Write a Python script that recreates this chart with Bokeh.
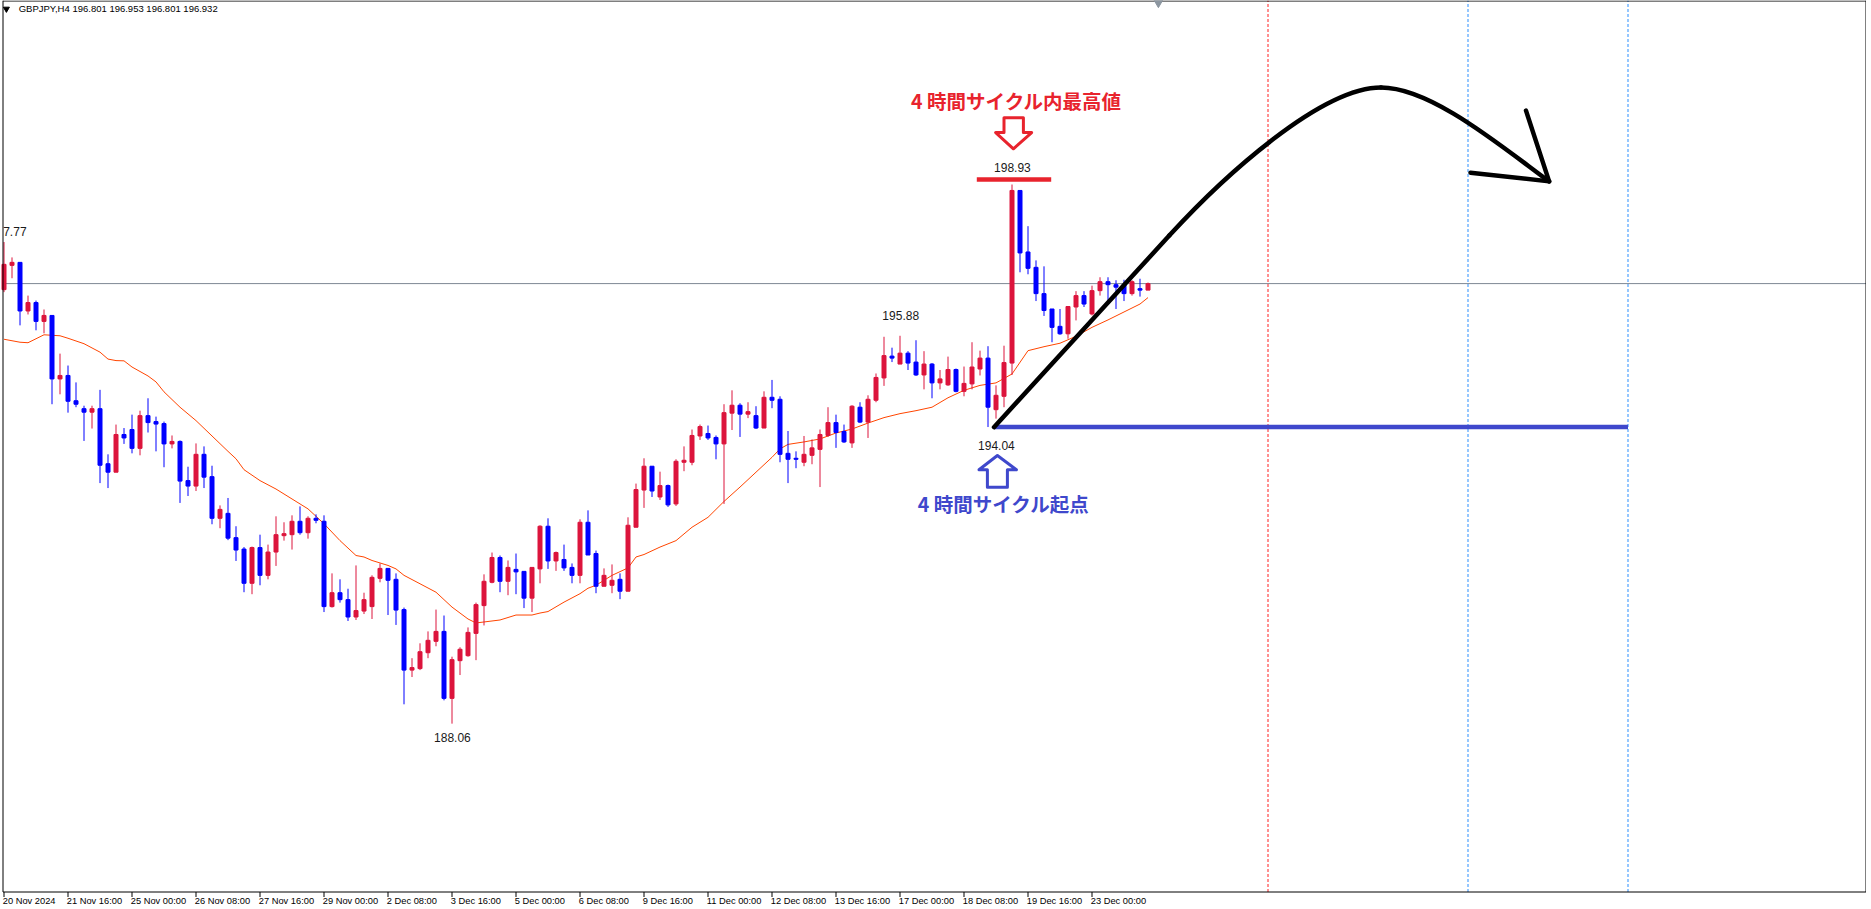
from bokeh.plotting import figure
from bokeh.models import ColumnDataSource
from bokeh.core.properties import value
from bokeh.embed import file_html
from bokeh.resources import INLINE

# ---------------- data (GBPJPY H4, bar index 0 = 20 Nov 2024 08:00) ----------------
opens = [196.81, 197.30, 197.36, 196.38, 196.55, 196.17, 196.29, 195.01, 195.08, 194.57,
         194.41, 194.34, 194.41, 193.30, 193.13, 193.89, 193.99, 193.61, 194.27, 194.15,
         194.11, 193.70, 193.75, 192.96, 192.85, 193.49, 193.04, 192.20, 192.30, 191.81,
         191.58, 190.89, 191.61, 191.05, 191.52, 191.85, 191.87, 192.14, 191.91, 192.20,
         192.14, 190.42, 190.70, 190.56, 190.21, 190.33, 190.42, 190.99, 191.19, 190.97,
         190.36, 189.14, 189.17, 189.49, 189.72, 189.92, 188.57, 189.33, 189.43, 189.88,
         190.44, 190.91, 191.41, 190.93, 191.17, 191.13, 190.59, 191.18, 192.04, 191.34,
         191.37, 191.21, 191.05, 192.12, 191.49, 190.83, 190.85, 190.97, 190.73, 192.02,
         192.77, 193.25, 192.63, 192.86, 192.49, 193.33, 193.33, 193.86, 193.91, 193.83,
         193.70, 194.32, 194.48, 194.30, 194.27, 194.02, 194.64, 194.60, 193.51, 193.41,
         193.33, 193.47, 193.59, 193.87, 194.13, 193.95, 193.72, 194.44, 194.14, 194.58,
         195.03, 195.47, 195.31, 195.53, 195.35, 195.09, 195.31, 194.93, 194.89, 195.20,
         194.76, 194.91, 195.21, 195.43, 194.39, 194.66, 195.33, 198.81, 197.57, 197.26,
         196.73, 196.42, 196.07, 195.92, 196.46, 196.69, 196.32, 196.79, 196.97, 196.91,
         196.91, 196.73, 196.83, 196.801]
highs = [197.77, 197.46, 197.36, 196.69, 196.59, 196.41, 196.29, 195.52, 195.28, 194.94,
         194.47, 194.47, 194.79, 193.49, 194.09, 194.02, 194.29, 194.37, 194.62, 194.25,
         194.15, 193.87, 193.77, 193.24, 193.71, 193.65, 193.26, 192.46, 192.61, 192.04,
         191.62, 191.63, 191.87, 191.67, 192.24, 192.12, 192.26, 192.44, 192.24, 192.28,
         192.26, 191.09, 190.97, 190.78, 191.25, 190.70, 191.05, 191.29, 191.19, 191.09,
         190.40, 189.38, 189.68, 189.92, 190.36, 190.24, 189.41, 189.60, 190.00, 190.50,
         191.07, 191.51, 191.45, 191.35, 191.49, 191.13, 191.21, 192.06, 192.20, 191.53,
         191.67, 191.29, 192.18, 192.36, 191.55, 191.19, 191.27, 191.09, 192.22, 192.90,
         193.41, 193.25, 193.14, 192.88, 193.39, 193.65, 193.99, 194.09, 194.07, 193.87,
         194.50, 194.78, 194.52, 194.54, 194.46, 194.76, 194.99, 194.66, 193.96, 193.55,
         193.86, 193.79, 193.99, 194.44, 194.29, 194.09, 194.48, 194.54, 194.68, 195.12,
         195.86, 195.64, 195.88, 195.57, 195.79, 195.57, 195.33, 195.19, 195.46, 195.22,
         195.26, 195.75, 195.58, 195.67, 194.88, 195.68, 198.93, 198.81, 198.09, 197.40,
         197.28, 196.42, 196.42, 196.48, 196.78, 196.78, 196.89, 197.06, 197.06, 197.00,
         197.01, 197.00, 197.03, 196.953]
lows = [196.76, 197.04, 196.09, 196.31, 195.99, 195.93, 194.50, 194.70, 194.33, 194.44,
        193.76, 194.01, 192.91, 192.81, 193.13, 193.70, 193.51, 193.47, 193.93, 193.55,
        193.23, 193.61, 192.51, 192.65, 192.75, 192.81, 192.08, 192.00, 191.76, 191.34,
        190.71, 190.67, 190.85, 190.97, 191.24, 191.75, 191.57, 191.87, 191.79, 192.10,
        190.31, 190.40, 190.50, 190.13, 190.15, 190.27, 190.17, 190.91, 190.25, 190.05,
        188.45, 189.00, 189.14, 189.38, 189.62, 188.53, 188.06, 189.04, 189.41, 189.34,
        190.04, 190.89, 190.71, 190.65, 190.67, 190.39, 190.31, 190.89, 191.18, 191.14,
        191.14, 190.89, 190.89, 191.46, 190.69, 190.83, 190.69, 190.57, 190.73, 192.02,
        192.41, 192.63, 192.57, 192.43, 192.45, 193.15, 193.27, 193.78, 193.78, 193.39,
        192.49, 193.98, 193.84, 194.22, 194.00, 194.02, 194.42, 193.33, 192.91, 193.21,
        193.25, 193.29, 192.83, 193.84, 193.62, 193.72, 193.62, 194.12, 193.82, 194.54,
        194.87, 195.35, 195.31, 195.19, 195.07, 194.80, 194.62, 194.80, 194.87, 194.74,
        194.66, 194.80, 195.08, 194.04, 194.21, 194.44, 195.09, 197.16, 197.12, 196.58,
        196.28, 195.75, 195.90, 195.82, 196.19, 196.46, 196.29, 196.69, 196.59, 196.42,
        196.58, 196.69, 196.67, 196.801]
closes = [197.32, 197.36, 196.38, 196.55, 196.17, 196.29, 195.01, 195.08, 194.56, 194.50,
          194.34, 194.41, 193.27, 193.13, 193.89, 193.82, 193.61, 194.27, 194.13, 194.10,
          193.70, 193.75, 192.95, 192.85, 193.49, 193.03, 192.20, 192.38, 191.80, 191.56,
          190.89, 191.61, 191.05, 191.52, 191.87, 191.89, 192.14, 191.91, 192.20, 192.16,
          190.42, 190.70, 190.56, 190.21, 190.34, 190.56, 191.01, 191.19, 190.95, 190.35,
          189.14, 189.19, 189.51, 189.74, 189.92, 188.57, 189.35, 189.56, 189.90, 190.46,
          190.93, 191.41, 190.93, 191.21, 191.12, 190.59, 191.21, 192.04, 191.34, 191.51,
          191.20, 191.05, 192.12, 191.46, 190.83, 191.05, 190.95, 190.73, 192.06, 192.78,
          193.25, 192.75, 192.86, 192.47, 193.35, 193.37, 193.87, 194.05, 193.82, 193.70,
          194.33, 194.48, 194.30, 194.35, 194.02, 194.64, 194.58, 193.49, 193.39, 193.39,
          193.49, 193.62, 193.89, 194.13, 193.93, 193.74, 194.46, 194.14, 194.60, 195.04,
          195.48, 195.43, 195.53, 195.33, 195.09, 195.31, 194.93, 195.01, 195.20, 194.76,
          194.92, 195.25, 195.43, 194.44, 194.68, 195.34, 198.81, 197.55, 197.24, 196.73,
          196.39, 196.05, 195.92, 196.47, 196.69, 196.52, 196.79, 196.97, 196.91, 196.86,
          196.73, 196.97, 196.80, 196.932]

# moving average (bar index, value)
ma_idx = [0, 2, 3, 5, 6, 7, 8, 10, 12, 13, 14, 15, 16, 18, 19, 20, 22, 24, 26, 28, 29, 30,
          32, 34, 36, 38, 40, 42, 44, 45, 46, 48, 49, 50, 52, 54, 56, 58, 59, 60, 62, 64,
          66, 67, 68, 70, 72, 73, 74, 76, 78, 79, 80, 82, 84, 86, 88, 90, 92, 94, 96, 97,
          98, 100, 102, 104, 106, 108, 110, 112, 114, 116, 118, 120, 122, 124, 126, 128,
          130, 132, 134, 136, 138, 140, 142, 143]
ma_val = [195.81, 195.75, 195.74, 195.90, 195.89, 195.88, 195.83, 195.72, 195.55, 195.41,
          195.38, 195.375, 195.25, 195.07, 194.95, 194.75, 194.44, 194.17, 193.86, 193.55,
          193.40, 193.18, 192.96, 192.79, 192.59, 192.39, 192.09, 191.75, 191.45, 191.42,
          191.35, 191.25, 191.18, 191.05, 190.88, 190.71, 190.41, 190.17, 190.09, 190.11,
          190.15, 190.25, 190.25, 190.29, 190.32, 190.51, 190.68, 190.79, 190.85, 191.05,
          191.20, 191.42, 191.47, 191.62, 191.75, 192.02, 192.22, 192.54, 192.83, 193.13,
          193.43, 193.60, 193.69, 193.74, 193.80, 193.92, 194.00, 194.12, 194.23, 194.31,
          194.37, 194.44, 194.63, 194.78, 194.88, 194.93, 195.11, 195.58, 195.66, 195.73,
          195.87, 196.05, 196.20, 196.36, 196.52, 196.65]

last_price = 196.932
tick_pos = [0, 8, 16, 24, 32, 40, 48, 56, 64, 72, 80, 88, 96, 104, 112, 120, 128, 136]
tick_labels = ["20 Nov 2024", "21 Nov 16:00", "25 Nov 00:00", "26 Nov 08:00", "27 Nov 16:00",
               "29 Nov 00:00", "2 Dec 08:00", "3 Dec 16:00", "5 Dec 00:00", "6 Dec 08:00",
               "9 Dec 16:00", "11 Dec 00:00", "12 Dec 08:00", "13 Dec 16:00", "17 Dec 00:00",
               "18 Dec 08:00", "19 Dec 16:00", "23 Dec 00:00"]

price_lbl_x = [112.09, 126.05, 124.05, 56.05]
price_lbl_y = [196.289, 199.273, 193.668, 187.775]
price_lbl_t = ["195.88", "198.93", "194.04", "188.06"]
edge_lbl_x = [-0.1]
edge_lbl_y = [197.988]
edge_lbl_t = ["7.77"]

# hand-drawn annotations (bar index, price)
high_bar_x = [121.6, 130.9]
high_bar_y = [199.03, 199.03]
start_line_x = [123.75, 203.0]
start_line_y = [194.04, 194.04]
rise_x = [123.75, 137.09, 145.69]
rise_y = [194.037, 196.39, 197.906]
# two cubic curve pieces: start, control 1, control 2, end
arc_x0 = [145.69, 172.125]
arc_y0 = [197.906, 200.886]
arc_cx0 = [152.44, 178.375]
arc_cy0 = [199.095, 200.886]
arc_cx1 = [164.625, 187.09]
arc_cy1 = [200.886, 199.708]
arc_x1 = [172.125, 193.14]
arc_y1 = [200.886, 198.993]
barb_x = [190.25, 193.14, 183.31]
barb_y = [200.42, 198.993, 199.168]
red_arrow_x = [125.0, 127.425, 127.425, 128.46, 126.175, 123.96, 125.0]
red_arrow_y = [200.275, 200.275, 199.978, 199.978, 199.65, 199.978, 199.978]
blue_arrow_x = [124.175, 126.55, 125.425, 125.425, 122.925, 122.925, 121.875]
blue_arrow_y = [193.466, 193.178, 193.178, 192.827, 192.827, 193.178, 193.178]
red_vlines = [158]
blue_vlines = [183, 203]
title_red = "4 時間サイクル内最高値"
title_blue = "4 時間サイクル起点"
header_text = "GBPJPY,H4  196.801 196.953 196.801 196.932"

# ---------------- layout / styling ----------------
RED = "#dc143c"
BLUE = "#0000ff"
ANN_RED = "#e8232d"
ANN_BLUE = "#3f48cc"
W, H = 1866, 905
PX_X = 8.0                      # pixels per bar
PX_Y = 49.6                     # pixels per yen
X0 = -0.4375
X1 = X0 + W / PX_X
Y1 = 202.6397
Y0 = Y1 - H / PX_Y
AXIS_Y = Y1 - 891.5 / PX_Y      # date-axis line
TICK_LEN = 5 / PX_Y
LABEL_Y = Y1 - 900.0 / PX_Y
LEFT_X = X0 + 2.5 / PX_X
RIGHT_X = X0 + (W - 0.5) / PX_X
TOP_Y = Y1 - 0.5 / PX_Y
FONT = value("Liberation Sans")

n = len(opens)
xs = list(range(n))
cols = [RED if c >= o else BLUE for o, c in zip(opens, closes)]
tops = [max(o, c) for o, c in zip(opens, closes)]
bots = [min(o, c) for o, c in zip(opens, closes)]
src = ColumnDataSource(dict(x=xs, h=highs, l=lows, top=tops, bot=bots, col=cols))

p = figure(width=W, height=H, x_range=(X0, X1), y_range=(Y0, Y1), title=None,
           output_backend="svg", toolbar_location=None,
           x_axis_location=None, y_axis_location=None, min_border=0,
           min_border_left=0, min_border_right=0, min_border_top=0, min_border_bottom=0)
p.grid.visible = False
p.outline_line_color = None
p.background_fill_color = "white"
p.border_fill_color = "white"

# date axis tick marks and labels
p.segment(x0=tick_pos, y0=[AXIS_Y] * len(tick_pos), x1=tick_pos,
          y1=[AXIS_Y - TICK_LEN] * len(tick_pos), line_color="black", line_width=1)
p.text(x=[t - 0.15 for t in tick_pos], y=[LABEL_Y] * len(tick_pos), text=tick_labels,
       text_align="left", text_baseline="middle", text_font=FONT, text_font_size="9.3px",
       text_color="black")

# vertical dotted lines (down to the date axis) and last price line
p.segment(x0=red_vlines, y0=[AXIS_Y] * len(red_vlines), x1=red_vlines, y1=[Y1] * len(red_vlines),
          line_color="#ff2020", line_width=1, line_dash="3 2")
p.segment(x0=blue_vlines, y0=[AXIS_Y] * len(blue_vlines), x1=blue_vlines, y1=[Y1] * len(blue_vlines),
          line_color="#2b8fff", line_width=1, line_dash="3 2")
p.segment(x0=[LEFT_X], y0=[last_price], x1=[RIGHT_X], y1=[last_price], line_color="#7d8793", line_width=1)

# moving average
p.line(ma_idx, ma_val, line_color="#ff4500", line_width=1)

# candles
p.segment(x0="x", y0="l", x1="x", y1="h", line_color="col", line_width=1, source=src)
p.vbar(x="x", width=0.5, top="top", bottom="bot", fill_color="col", line_color="col",
       line_width=1, source=src)

# chart frame: top, left, right borders and the date axis line
p.segment(x0=[LEFT_X, LEFT_X, RIGHT_X, LEFT_X], y0=[TOP_Y, AXIS_Y, AXIS_Y, AXIS_Y],
          x1=[X1, LEFT_X, RIGHT_X, X1], y1=[TOP_Y, Y1, Y1, AXIS_Y],
          line_color="black", line_width=1)

# annotations
p.line(high_bar_x, high_bar_y, line_color=ANN_RED, line_width=4.5)
p.line(start_line_x, start_line_y, line_color=ANN_BLUE, line_width=4.5)
p.line(rise_x, rise_y, line_color="black", line_width=4.5, line_join="round", line_cap="round")
p.bezier(x0=arc_x0, y0=arc_y0, x1=arc_x1, y1=arc_y1, cx0=arc_cx0, cy0=arc_cy0,
         cx1=arc_cx1, cy1=arc_cy1, line_color="black", line_width=4.5, line_cap="round")
p.line(barb_x, barb_y, line_color="black", line_width=4.5, line_join="round", line_cap="round")
p.patch(red_arrow_x, red_arrow_y, fill_color="white", line_color=ANN_RED, line_width=3, line_join="round")
p.patch(blue_arrow_x, blue_arrow_y, fill_color="white", line_color=ANN_BLUE, line_width=3, line_join="round")

p.text(x=price_lbl_x, y=price_lbl_y, text=price_lbl_t, text_align="center", text_baseline="middle",
       text_font=FONT, text_font_size="12px", text_color="#1a1a1a")
p.text(x=edge_lbl_x, y=edge_lbl_y, text=edge_lbl_t, text_align="left", text_baseline="middle",
       text_font=FONT, text_font_size="12px", text_color="#1a1a1a")
p.text(x=[126.57], y=[200.624], text=[title_red], text_align="center", text_baseline="middle",
       text_font=value("Noto Sans CJK JP"), text_font_style="bold", text_font_size="19.5px",
       text_color=ANN_RED)
p.text(x=[124.96], y=[192.499], text=[title_blue], text_align="center", text_baseline="middle",
       text_font=value("Noto Sans CJK JP"), text_font_style="bold", text_font_size="19.5px",
       text_color=ANN_BLUE)

# header
p.scatter([0.3], [202.47], marker="inverted_triangle", size=6, color="black")
p.text(x=[1.84], y=[202.47], text=[header_text], text_align="left", text_baseline="middle",
       text_font=FONT, text_font_size="9.5px", text_color="black")
# chart shift marker
p.scatter([144.3], [202.60], marker="inverted_triangle", size=9, color="#8c96a0")

open("out.html", "w").write(file_html(p, INLINE))
